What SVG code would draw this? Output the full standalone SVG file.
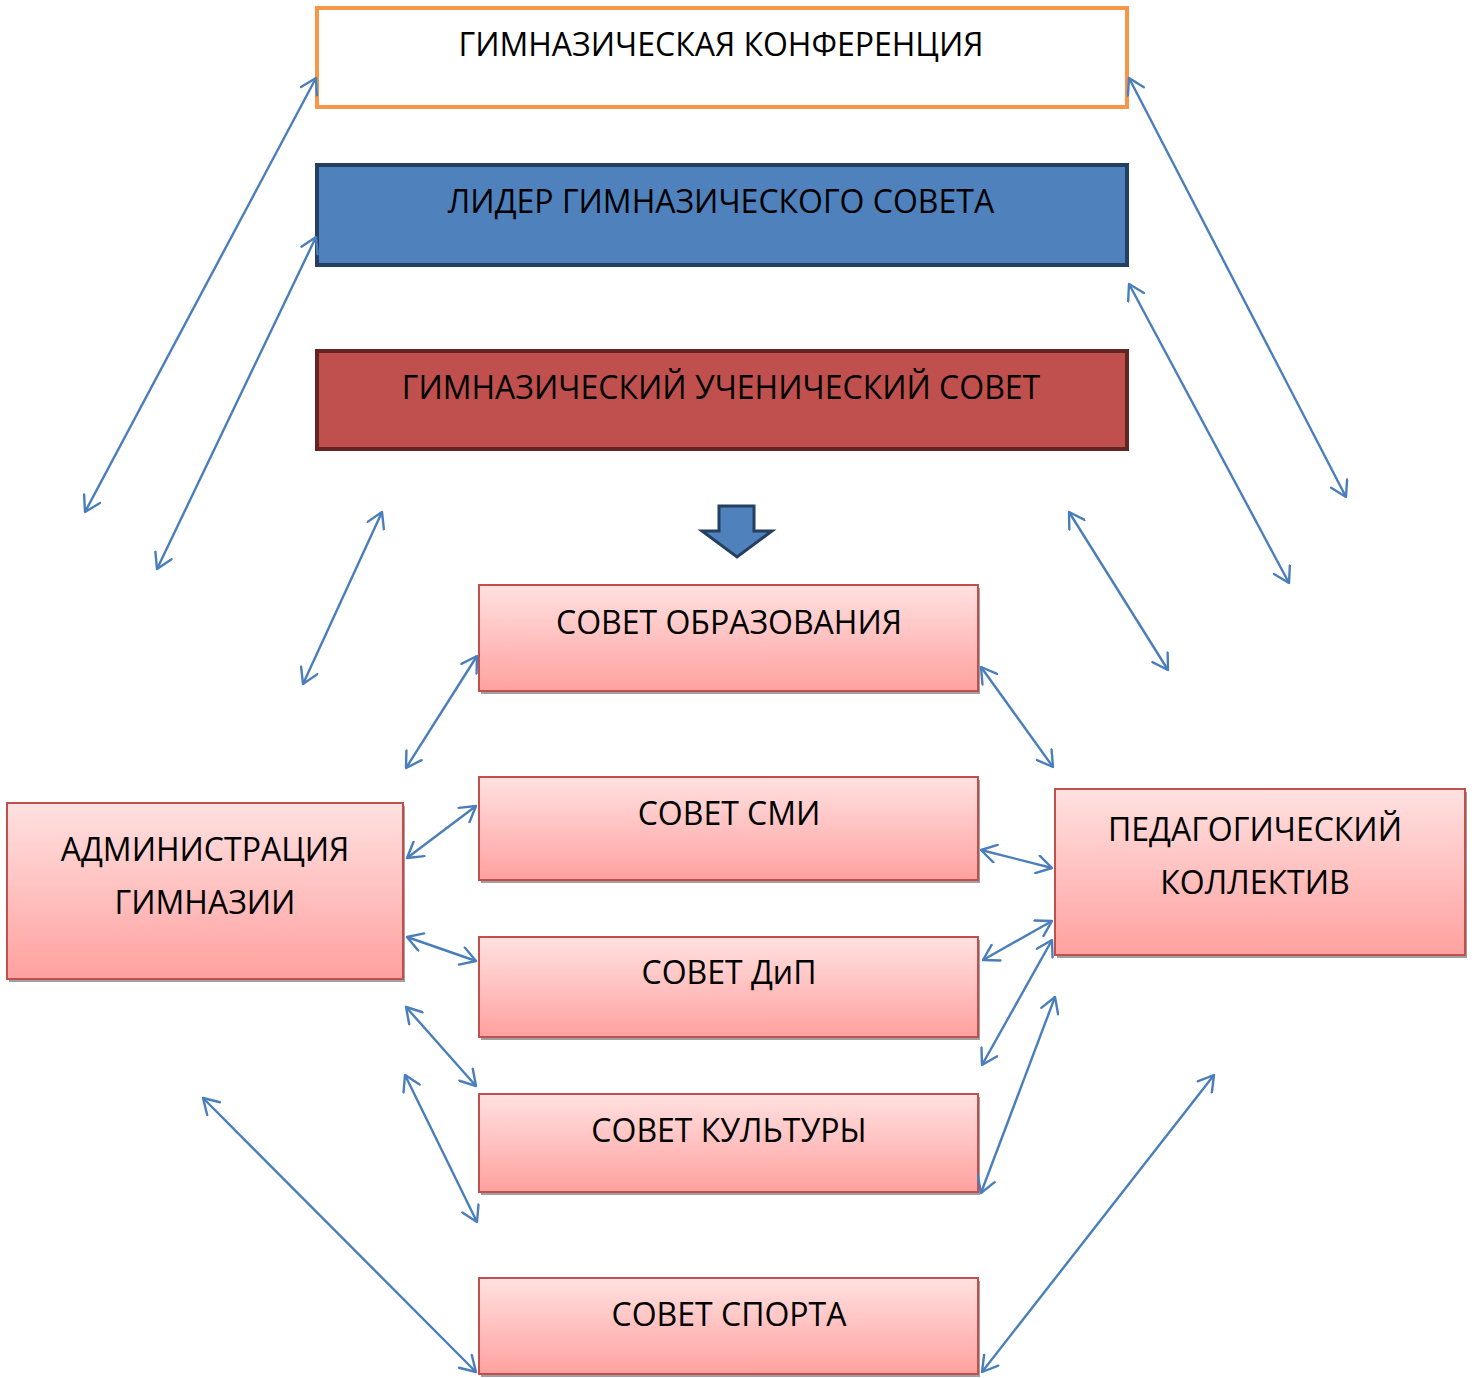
<svg xmlns="http://www.w3.org/2000/svg" width="1477" height="1378" viewBox="0 0 1477 1378">
<defs>
<linearGradient id="pink" x1="0" y1="0" x2="0" y2="1">
<stop offset="0" stop-color="#FFE1E1"/>
<stop offset="1" stop-color="#FFA19F"/>
</linearGradient>
<marker id="ah" viewBox="0 0 20 20" refX="18" refY="10" markerWidth="20" markerHeight="20" markerUnits="userSpaceOnUse" orient="auto-start-reverse">
<path d="M3,1 L18,10 L3,19" fill="none" stroke="#4A7EBB" stroke-width="2.4" stroke-linecap="round" stroke-linejoin="round"/>
</marker>
</defs>
<style>
text{font-family:"Open Sans","Liberation Sans",sans-serif;font-size:32px;fill:#000;text-anchor:middle}
.pk{fill:url(#pink);stroke:#C0504D;stroke-width:2}
.sh{fill:#A0A0A0}
#connectors line{stroke:#4A7EBB;stroke-width:2.4;marker-start:url(#ah);marker-end:url(#ah)}
</style>
<rect width="1477" height="1378" fill="#fff"/>
<g id="conf">
<rect x="317" y="8" width="810" height="99" fill="#fff" stroke="#F79646" stroke-width="4"/>
<text x="721" y="56">ГИМНАЗИЧЕСКАЯ КОНФЕРЕНЦИЯ</text>
</g>
<g id="leader">
<rect x="317" y="165" width="810" height="100" fill="#4F81BD" stroke="#243F60" stroke-width="4"/>
<text x="721" y="213">ЛИДЕР ГИМНАЗИЧЕСКОГО СОВЕТА</text>
</g>
<g id="council">
<rect x="317" y="351" width="810" height="98" fill="#C0504D" stroke="#632523" stroke-width="4"/>
<text x="721" y="399">ГИМНАЗИЧЕСКИЙ УЧЕНИЧЕСКИЙ СОВЕТ</text>
</g>
<g id="blockarrow">
<path d="M719,506 L754,506 L754,531 L772,531 L737,557 L702,531 L719,531 Z" fill="#4F81BD" stroke="#243F60" stroke-width="3" stroke-linejoin="miter"/>
</g>
<g id="edu">
<rect class="sh" x="481" y="588" width="499" height="106"/>
<rect class="pk" x="479" y="585" width="499" height="106"/>
<text x="729" y="634">СОВЕТ ОБРАЗОВАНИЯ</text>
</g>
<g id="smi">
<rect class="sh" x="481" y="780" width="499" height="103"/>
<rect class="pk" x="479" y="777" width="499" height="103"/>
<text x="729" y="825">СОВЕТ СМИ</text>
</g>
<g id="dip">
<rect class="sh" x="481" y="940" width="499" height="100"/>
<rect class="pk" x="479" y="937" width="499" height="100"/>
<text x="729" y="984">СОВЕТ ДиП</text>
</g>
<g id="culture">
<rect class="sh" x="481" y="1097" width="499" height="98"/>
<rect class="pk" x="479" y="1094" width="499" height="98"/>
<text x="729" y="1142">СОВЕТ КУЛЬТУРЫ</text>
</g>
<g id="sport">
<rect class="sh" x="481" y="1281" width="499" height="96"/>
<rect class="pk" x="479" y="1278" width="499" height="96"/>
<text x="729" y="1326">СОВЕТ СПОРТА</text>
</g>
<g id="admin">
<rect class="sh" x="9" y="806" width="396" height="176"/>
<rect class="pk" x="7" y="803" width="396" height="176"/>
<text x="205" y="861">АДМИНИСТРАЦИЯ</text>
<text x="205" y="914">ГИМНАЗИИ</text>
</g>
<g id="ped">
<rect class="sh" x="1057" y="792" width="410" height="166"/>
<rect class="pk" x="1055" y="789" width="410" height="166"/>
<text x="1255" y="841">ПЕДАГОГИЧЕСКИЙ</text>
<text x="1255" y="894">КОЛЛЕКТИВ</text>
</g>
<g id="connectors">
<line x1="316" y1="78" x2="85" y2="512"/>
<line x1="316" y1="237" x2="157" y2="569"/>
<line x1="382" y1="512" x2="303" y2="684"/>
<line x1="1129" y1="78" x2="1346" y2="497"/>
<line x1="1129" y1="284" x2="1289" y2="583"/>
<line x1="1069" y1="512" x2="1168" y2="670"/>
<line x1="477" y1="656" x2="406" y2="768"/>
<line x1="981" y1="667" x2="1053" y2="767"/>
<line x1="476" y1="806" x2="407" y2="858"/>
<line x1="981" y1="850" x2="1052" y2="868"/>
<line x1="407" y1="937" x2="476" y2="961"/>
<line x1="1052" y1="921" x2="983" y2="960"/>
<line x1="1052" y1="940" x2="982" y2="1065"/>
<line x1="406" y1="1007" x2="476" y2="1086"/>
<line x1="405" y1="1075" x2="477" y2="1222"/>
<line x1="1055" y1="997" x2="981" y2="1193"/>
<line x1="203" y1="1098" x2="476" y2="1372"/>
<line x1="1214" y1="1075" x2="982" y2="1372"/>
</g>
</svg>
